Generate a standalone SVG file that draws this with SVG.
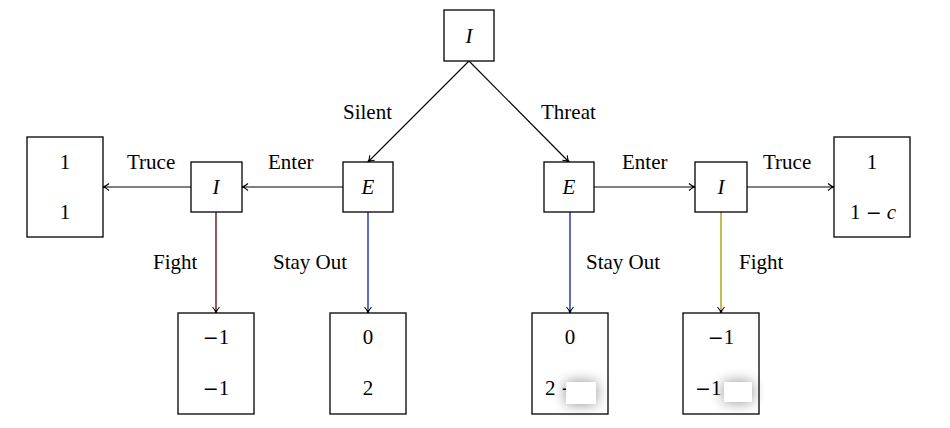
<svg xmlns="http://www.w3.org/2000/svg" width="950" height="428" viewBox="0 0 950 428">
<style>
.box{fill:#fff;stroke:#000;stroke-width:1.3}
.t{font-family:"Liberation Serif","Times New Roman",serif;font-size:21px;fill:#000}
.c{text-anchor:middle}
.i{font-style:italic}
.m{font-family:"DejaVu Serif",serif;font-size:19px}
.e{stroke:#000;stroke-width:1.1;fill:none}
</style>
<defs>
<marker id="ah" viewBox="-8 -5 10 10" refX="0" refY="0" markerWidth="10" markerHeight="10" markerUnits="userSpaceOnUse" orient="auto">
<path d="M-6,-3.5 C-3.5,-1.2 -1.5,-0.3 0,0 C-1.5,0.3 -3.5,1.2 -6,3.5" fill="none" stroke="#000" stroke-width="1.1"/>
<rect x="-3" y="-1" width="3" height="2" fill="#000"/>
</marker>
<filter id="sh" x="-60%" y="-80%" width="220%" height="260%"><feGaussianBlur stdDeviation="7"/></filter>
</defs>
<g id="connectors">
<line class="e" x1="469" y1="61" x2="368" y2="162" marker-end="url(#ah)"/>
<line class="e" x1="469" y1="61" x2="569" y2="162" marker-end="url(#ah)"/>
<line class="e" x1="343" y1="187" x2="242" y2="187" marker-end="url(#ah)"/>
<line class="e" x1="191" y1="187" x2="103" y2="187" marker-end="url(#ah)"/>
<line class="e" x1="594" y1="187" x2="695" y2="187" marker-end="url(#ah)"/>
<line class="e" x1="747" y1="187" x2="834" y2="187" marker-end="url(#ah)"/>
<line class="e" x1="216" y1="212" x2="216" y2="313" style="stroke:#6a1010;stroke-width:1.4" marker-end="url(#ah)"/>
<line class="e" x1="368" y1="212" x2="368" y2="313" style="stroke:#1a30a8;stroke-width:1.4" marker-end="url(#ah)"/>
<line class="e" x1="570" y1="212" x2="570" y2="313" style="stroke:#1a30a8;stroke-width:1.4" marker-end="url(#ah)"/>
<line class="e" x1="721" y1="212" x2="721" y2="313" style="stroke:#a8a010;stroke-width:1.4" marker-end="url(#ah)"/>
<text class="t" x="343" y="119">Silent</text>
<text class="t" x="541" y="119">Threat</text>
<text class="t" x="127" y="169">Truce</text>
<text class="t" x="268" y="169">Enter</text>
<text class="t" x="622" y="169">Enter</text>
<text class="t" x="763" y="169">Truce</text>
<text class="t" x="153" y="269">Fight</text>
<text class="t" x="273" y="269">Stay Out</text>
<text class="t" x="586" y="269">Stay Out</text>
<text class="t" x="739" y="269">Fight</text>
</g>
<g id="n_I_top"><rect class="box" x="444" y="10" width="50" height="51"/><text class="t c i" x="469" y="43">I</text></g>
<g id="n_E_left"><rect class="box" x="343" y="162" width="50" height="50"/><text class="t c i" x="368" y="194">E</text></g>
<g id="n_E_right"><rect class="box" x="544" y="162" width="50" height="50"/><text class="t c i" x="569" y="194">E</text></g>
<g id="n_I_left"><rect class="box" x="191" y="162" width="51" height="50"/><text class="t c i" x="216" y="194">I</text></g>
<g id="n_I_right"><rect class="box" x="695" y="162" width="52" height="50"/><text class="t c i" x="721" y="194">I</text></g>
<g id="p_truce_left"><rect class="box" x="27" y="137" width="76" height="100"/><text class="t c" x="65" y="169">1</text><text class="t c" x="65" y="219">1</text></g>
<g id="p_truce_right"><rect class="box" x="834" y="137" width="76" height="100"/><text class="t c" x="872" y="169">1</text><text class="t c" x="873" y="219">1 <tspan class="m">−</tspan> <tspan class="i">c</tspan></text></g>
<g id="p_fight_left"><rect class="box" x="178" y="313" width="76" height="101"/><text class="t c" x="216" y="344"><tspan class="m">−</tspan>1</text><text class="t c" x="216" y="395"><tspan class="m">−</tspan>1</text></g>
<g id="p_stay_left"><rect class="box" x="330" y="313" width="76" height="101"/><text class="t c" x="368" y="344">0</text><text class="t c" x="368" y="395">2</text></g>
<g id="p_stay_right"><rect class="box" x="532" y="313" width="76" height="101"/><text class="t c" x="570" y="344">0</text><text class="t" x="545" y="395">2 <tspan class="m">−</tspan></text>
<rect x="566" y="382" width="30" height="22" fill="#000" opacity="0.45" filter="url(#sh)"/><rect x="566" y="382" width="30" height="22" fill="#fff"/></g>
<g id="p_fight_right"><rect class="box" x="683" y="313" width="76" height="101"/><text class="t c" x="721" y="344"><tspan class="m">−</tspan>1</text><text class="t" x="695" y="395"><tspan class="m">−</tspan>1 <tspan class="m">−</tspan></text>
<rect x="724" y="382" width="28" height="20" fill="#000" opacity="0.45" filter="url(#sh)"/><rect x="724" y="382" width="28" height="20" fill="#fff"/></g>
</svg>
